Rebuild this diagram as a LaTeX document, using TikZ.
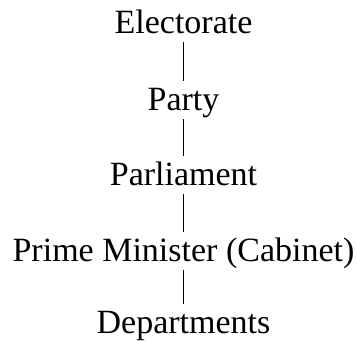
\documentclass[tikz,border=0pt]{standalone}
\usepackage{fontspec}
\setmainfont{Liberation Serif}
\begin{document}
\begin{tikzpicture}[x=1pt,y=1pt,
  lbl/.style={anchor=base,inner sep=0pt,text height=30pt,text depth=8pt,font=\fontsize{34}{40}\selectfont},
  conn/.style={line width=1.2pt}]
\useasboundingbox (0,0) rectangle (357,-342);
\node[lbl] (e) at (183.5,-34) {Electorate};
\node[lbl] (p) at (183.5,-111) {Party};
\node[lbl] (pa) at (183.5,-186) {Parliament};
\node[lbl] (pm) at (183.5,-262) {Prime Minister (Cabinet)};
\node[lbl] (d) at (183.5,-334) {Departments};
\draw[conn] (e.south) -- (p.north);
\draw[conn] (p.south) -- (pa.north);
\draw[conn] (pa.south) -- (pm.north);
\draw[conn] (pm.south) -- (d.north);
\end{tikzpicture}
\end{document}
